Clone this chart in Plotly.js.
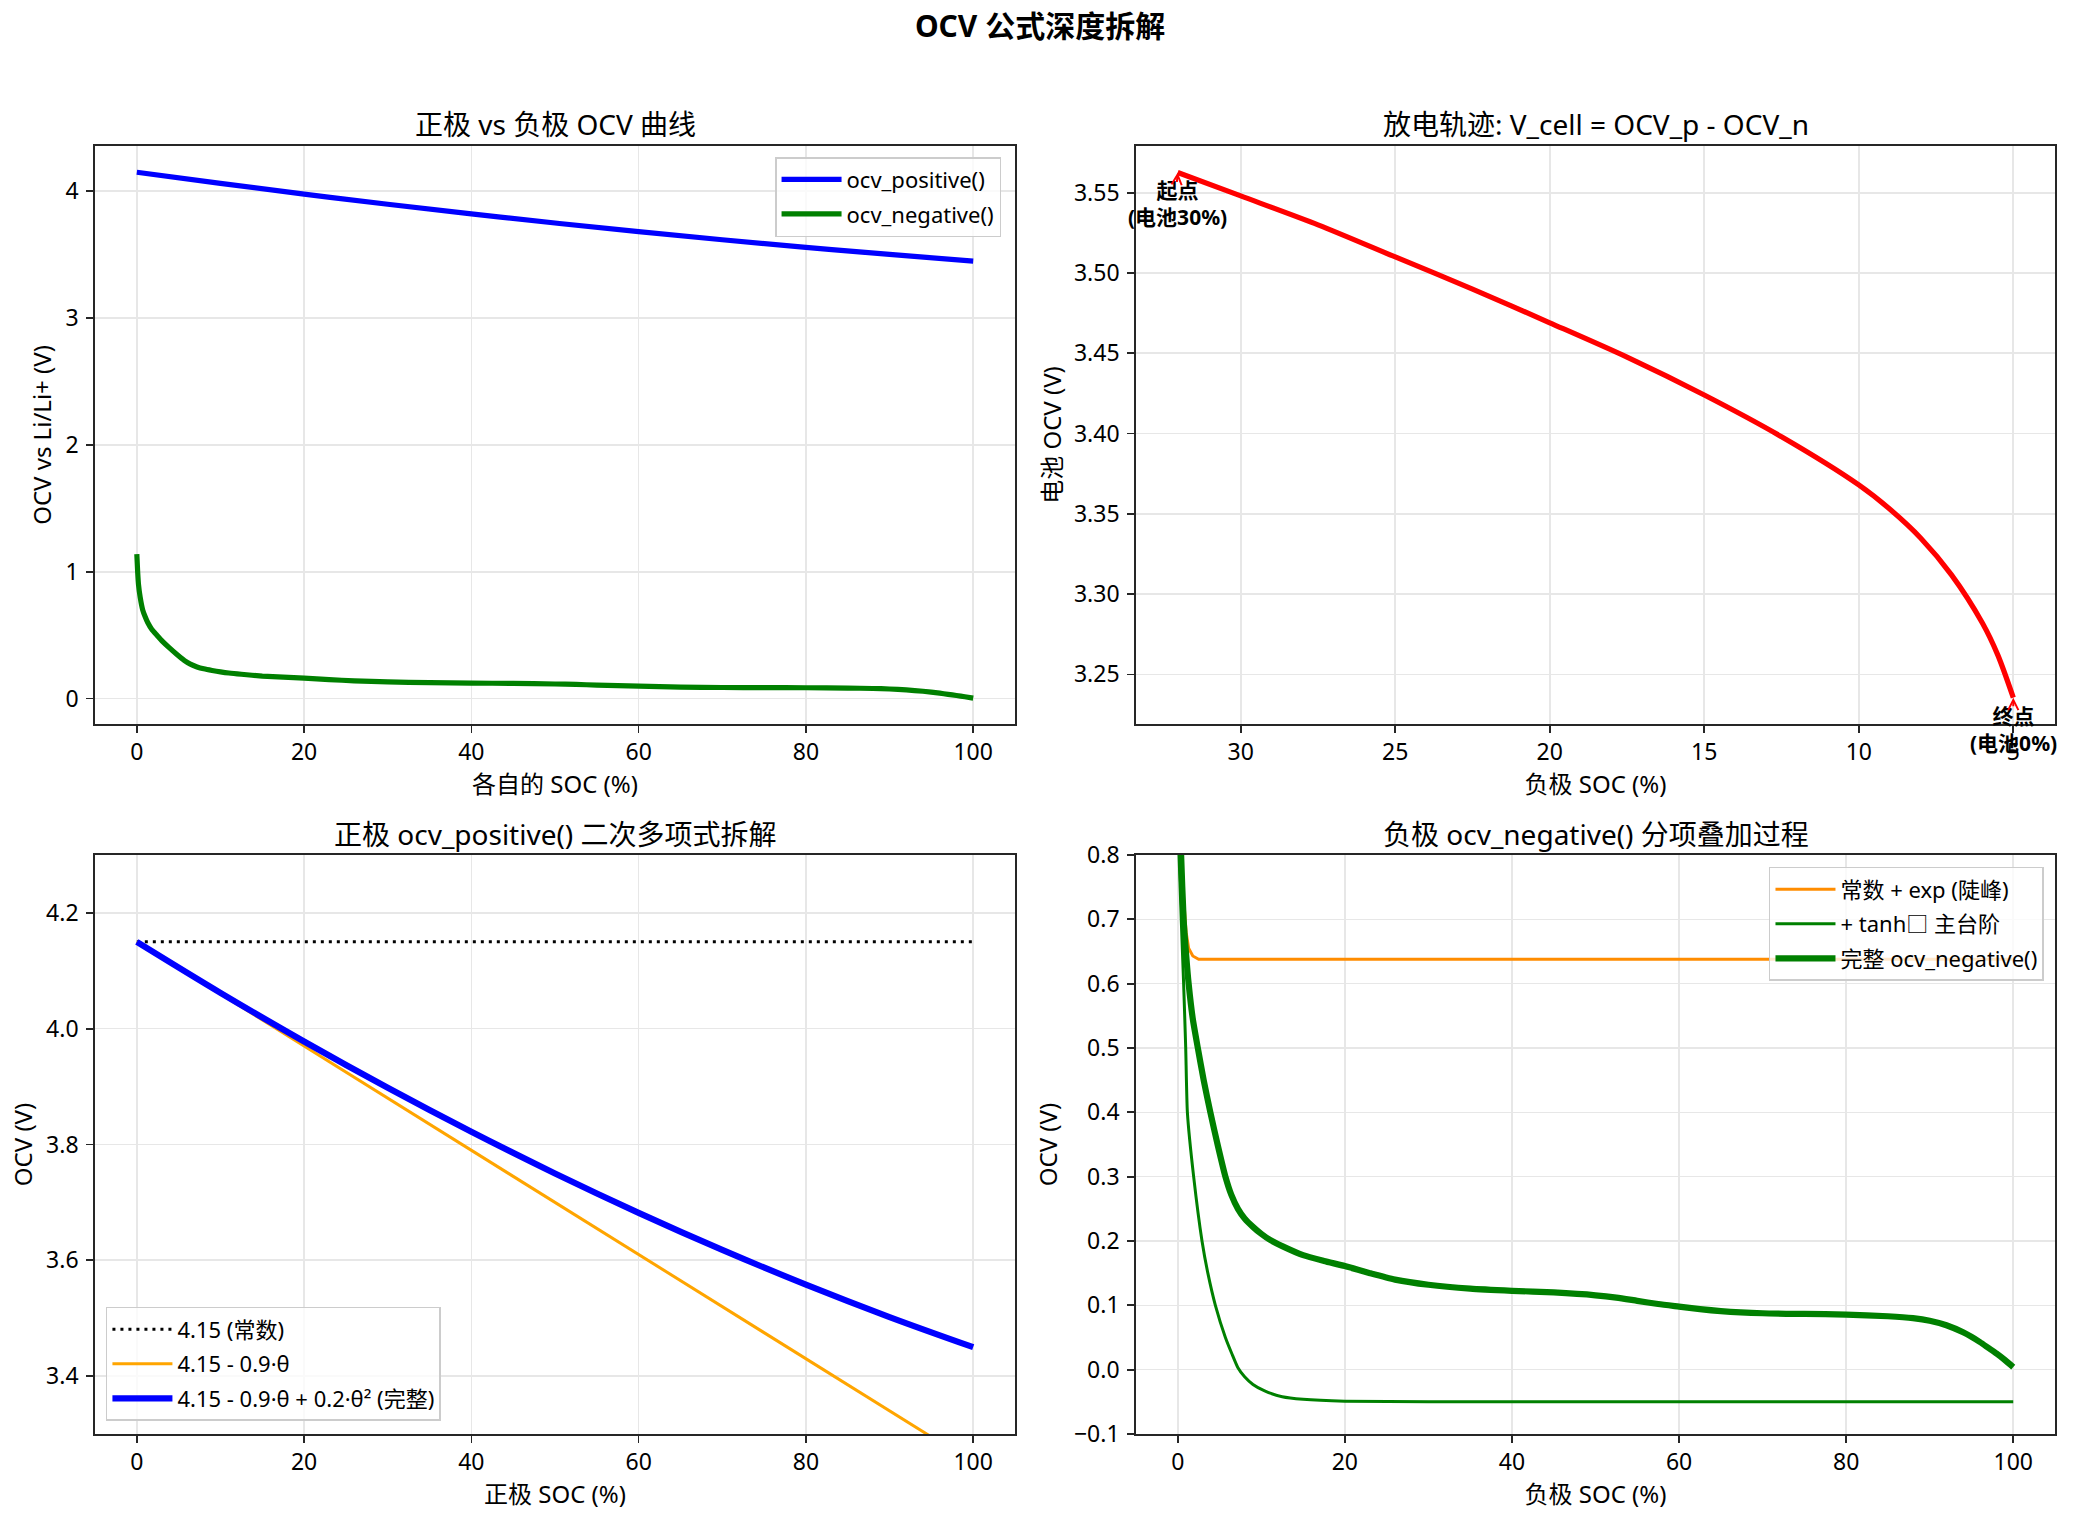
<!DOCTYPE html>
<html>
<head>
<meta charset="utf-8">
<script src="https://cdn.plot.ly/plotly-3.0.1.min.js"></script>
<style>html,body{margin:0;padding:0;background:#fff;}#chart{width:2073px;height:1522px;}</style>
</head>
<body>
<div id="chart"></div>
<script>
// ---- Data ----
// Positive electrode OCV vs its own SOC (%)
const socPos = [0, 10, 20, 30, 40, 50, 60, 70, 80, 90, 100];
const ocvPos = [4.150, 4.062, 3.978, 3.898, 3.822, 3.750, 3.682, 3.618, 3.558, 3.502, 3.450];

// Negative electrode OCV vs its own SOC (%)
const socNeg = [0, 0.1, 0.2, 0.4, 0.7, 1.0, 1.3, 1.8, 2.4, 3.1, 3.9, 4.8, 5.7, 6.4, 7.2, 8.0, 9.0, 10.0, 11.0, 12.5, 15, 17.5, 20, 23, 26, 30, 35, 40, 45, 50, 52.5, 55, 57.5, 60, 62.5, 65, 70, 75, 80, 85, 88, 90, 92, 94, 96, 97, 98, 99, 100];
const ocvNeg = [1.14, 1.0, 0.9, 0.8, 0.7, 0.645, 0.6, 0.545, 0.5, 0.45, 0.4, 0.348, 0.3, 0.272, 0.25, 0.235, 0.222, 0.211, 0.202, 0.192, 0.178, 0.169, 0.161, 0.15, 0.14, 0.132, 0.126, 0.1226, 0.12, 0.1156, 0.112, 0.107, 0.102, 0.098, 0.094, 0.091, 0.0877, 0.0866, 0.0857, 0.083, 0.08, 0.076, 0.069, 0.058, 0.043, 0.034, 0.025, 0.015, 0.004];

// Discharge trajectory: cell OCV vs negative SOC (%)
const cellSocN = [32.04, 30, 27.5, 25, 22.5, 20, 17.5, 15, 12.5, 10, 9, 8, 7, 6, 5.5, 5];
const cellOcv  = [3.5626, 3.548, 3.530, 3.510, 3.490, 3.469, 3.4476, 3.424, 3.398, 3.368, 3.353, 3.335, 3.312, 3.282, 3.262, 3.2355];

// Positive polynomial breakdown
const constX = [0, 100];
const constY = [4.15, 4.15];
const linX = [0, 100];
const linY = [4.15, 3.25];

// Negative breakdown
const expX = [0, 0.3, 0.6, 1.0, 1.3, 1.8, 2.5, 5, 20, 50, 100];
const expY = [1.14, 0.85, 0.75, 0.68, 0.655, 0.643, 0.638, 0.638, 0.638, 0.638, 0.638];
const tanhX = [0, 0.15, 0.7, 0.95, 1.15, 1.9, 2.9, 3.6, 4.5, 5.7, 6.5, 7.2, 8, 9, 10.4, 12.5, 15, 20, 30, 50, 100];
const tanhY = [1.0, 0.8, 0.6, 0.5, 0.4, 0.3, 0.2, 0.15, 0.1, 0.05, 0.024, 0.003, -0.011, -0.023, -0.033, -0.042, -0.046, -0.049, -0.05, -0.05, -0.05];

const xTicks = [0, 20, 40, 60, 80, 100];
const cellTicks = [30, 25, 20, 15, 10, 5];

// ---- Styling ----
const FONT = "'Noto Sans', 'Noto Sans CJK SC', sans-serif";
function ax(extra) {
  return Object.assign({
    showline: true, mirror: true, linecolor: '#262626', linewidth: 1.8,
    ticks: 'outside', ticklen: 7, tickwidth: 1.7, tickcolor: '#262626',
    showgrid: true, gridcolor: '#e7e7e7', gridwidth: 1.6, zeroline: false,
    tickfont: {size: 23, color: '#000', family: FONT}, automargin: false,
    ticklabelstandoff: 3
  }, extra);
}
const xd1 = [0.04583, 0.48963], xd2 = [0.54800, 0.99132];
const ydT = [0.52431, 0.90407], ydB = [0.05782, 0.43824];

const traces = [
  {x: socPos, y: ocvPos, xaxis: 'x', yaxis: 'y', mode: 'lines', name: 'ocv_positive()',
   line: {color: '#0000ff', width: 5.2, shape: 'spline'}, legend: 'legend', legendgroup: 'a'},
  {x: socNeg, y: ocvNeg, xaxis: 'x', yaxis: 'y', mode: 'lines', name: 'ocv_negative()',
   line: {color: '#008000', width: 5.2, shape: 'spline', smoothing: 0.6}, legend: 'legend', legendgroup: 'b'},

  {x: cellSocN, y: cellOcv, xaxis: 'x2', yaxis: 'y2', mode: 'lines', showlegend: false,
   line: {color: '#ff0000', width: 5.2, shape: 'spline', smoothing: 0.8}},

  {x: constX, y: constY, xaxis: 'x3', yaxis: 'y3', mode: 'lines', name: '4.15 (常数)',
   line: {color: '#000', width: 3, dash: '3px,5px'}, legend: 'legend2', legendgroup: 'c'},
  {x: linX, y: linY, xaxis: 'x3', yaxis: 'y3', mode: 'lines', name: '4.15 - 0.9·θ',
   line: {color: '#ffa500', width: 3}, legend: 'legend2', legendgroup: 'd'},
  {x: socPos, y: ocvPos, xaxis: 'x3', yaxis: 'y3', mode: 'lines', name: '4.15 - 0.9·θ + 0.2·θ² (完整)',
   line: {color: '#0000ff', width: 6.2, shape: 'spline'}, legend: 'legend2', legendgroup: 'e'},

  {x: expX, y: expY, xaxis: 'x4', yaxis: 'y4', mode: 'lines', name: '常数 + exp (陡峰)',
   line: {color: '#ff8c00', width: 3}, legend: 'legend3', legendgroup: 'f'},
  {x: tanhX, y: tanhY, xaxis: 'x4', yaxis: 'y4', mode: 'lines', name: '+ tanh□ 主台阶',
   line: {color: '#008000', width: 3, shape: 'spline', smoothing: 0.5}, legend: 'legend3', legendgroup: 'g'},
  {x: socNeg, y: ocvNeg, xaxis: 'x4', yaxis: 'y4', mode: 'lines', name: '完整 ocv_negative()',
   line: {color: '#008000', width: 6.2, shape: 'spline', smoothing: 0.6}, legend: 'legend3', legendgroup: 'h'}
];

const legendBase = {
  bgcolor: 'rgba(255,255,255,0.8)', bordercolor: '#cccccc', borderwidth: 1.5,
  font: {size: 22, family: FONT, color: '#000'}, tracegroupgap: 3, itemwidth: 60
};

const titleFont = {size: 28, family: FONT, color: '#000'};
const labelFont = {size: 24, family: FONT, color: '#000'};
const annFont = {size: 21, family: FONT, color: '#000'};

const layout = {
  width: 2073, height: 1522,
  margin: {l: 0, r: 0, t: 0, b: 0},
  paper_bgcolor: '#fff', plot_bgcolor: '#fff',
  font: {family: FONT, color: '#000'},
  title: {text: '<b>OCV 公式深度拆解</b>', font: {size: 30, family: FONT, color: '#000'},
          x: 0.5017, xanchor: 'center', y: 0.9823, yanchor: 'middle'},
  showlegend: true,
  xaxis: ax({domain: xd1, anchor: 'y', range: [-5, 105], tickvals: xTicks, ticklabelstandoff: 0,
             title: {text: '各自的 SOC (%)', font: labelFont, standoff: 7}}),
  yaxis: ax({domain: ydT, anchor: 'x', range: [-0.2, 4.357], tickvals: [0, 1, 2, 3, 4],
             title: {text: 'OCV vs Li/Li+ (V)', font: labelFont, standoff: 7}}),
  xaxis2: ax({domain: xd2, anchor: 'y2', range: [33.39, 3.65], tickvals: cellTicks, ticklabelstandoff: 0,
              title: {text: '负极 SOC (%)', font: labelFont, standoff: 7}}),
  yaxis2: ax({domain: ydT, anchor: 'x2', range: [3.2191, 3.5791], tickvals: [3.25, 3.30, 3.35, 3.40, 3.45, 3.50, 3.55],
              tickformat: '.2f', title: {text: '电池 OCV (V)', font: labelFont, standoff: 5}}),
  xaxis3: ax({domain: xd1, anchor: 'y3', range: [-5, 105], tickvals: xTicks, ticklabelstandoff: 0,
              title: {text: '正极 SOC (%)', font: labelFont, standoff: 7}}),
  yaxis3: ax({domain: ydB, anchor: 'x3', range: [3.3, 4.3], tickvals: [3.4, 3.6, 3.8, 4.0, 4.2],
              tickformat: '.1f', title: {text: 'OCV (V)', font: labelFont, standoff: 7}}),
  xaxis4: ax({domain: xd2, anchor: 'y4', range: [-5, 105], tickvals: xTicks, ticklabelstandoff: 0,
              title: {text: '负极 SOC (%)', font: labelFont, standoff: 7}}),
  yaxis4: ax({domain: ydB, anchor: 'x4', range: [-0.1, 0.8], tickvals: [-0.1, 0, 0.1, 0.2, 0.3, 0.4, 0.5, 0.6, 0.7, 0.8],
              tickformat: '.1f', title: {text: 'OCV (V)', font: labelFont, standoff: 9}}),
  legend: Object.assign({}, legendBase, {x: 0.4829, xanchor: 'right', y: 0.8968, yanchor: 'top'}),
  legend2: Object.assign({}, legendBase, {x: 0.0511, xanchor: 'left', y: 0.0664, yanchor: 'bottom'}),
  legend3: Object.assign({}, legendBase, {x: 0.9860, xanchor: 'right', y: 0.4304, yanchor: 'top'}),
  annotations: [
    {text: '正极 vs 负极 OCV 曲线', xref: 'paper', yref: 'paper', x: (xd1[0] + xd1[1]) / 2, y: 0.9185,
     xanchor: 'center', yanchor: 'middle', showarrow: false, font: titleFont},
    {text: '放电轨迹: V_cell = OCV_p - OCV_n', xref: 'paper', yref: 'paper', x: (xd2[0] + xd2[1]) / 2, y: 0.9185,
     xanchor: 'center', yanchor: 'middle', showarrow: false, font: titleFont},
    {text: '正极 ocv_positive() 二次多项式拆解', xref: 'paper', yref: 'paper', x: (xd1[0] + xd1[1]) / 2, y: 0.4520,
     xanchor: 'center', yanchor: 'middle', showarrow: false, font: titleFont},
    {text: '负极 ocv_negative() 分项叠加过程', xref: 'paper', yref: 'paper', x: (xd2[0] + xd2[1]) / 2, y: 0.4520,
     xanchor: 'center', yanchor: 'middle', showarrow: false, font: titleFont},
    // start / end labels
    {text: '<b>起点</b><br><b>(电池30%)</b>', xref: 'x2', yref: 'paper', x: cellSocN[0], y: 1 - 203.5 / 1522,
     xanchor: 'center', yanchor: 'middle', showarrow: false, font: annFont},
    {text: '', xref: 'x2', yref: 'y2', x: cellSocN[0], y: cellOcv[0], ax: -1, ay: 11,
     showarrow: true, arrowhead: 5, arrowsize: 1, arrowwidth: 2, arrowcolor: '#ff0000', standoff: 0},
    {text: '<b>终点</b><br><b>(电池0%)</b>', xref: 'x2', yref: 'paper', x: cellSocN[cellSocN.length - 1], y: 1 - 729.5 / 1522,
     xanchor: 'center', yanchor: 'middle', showarrow: false, font: annFont},
    {text: '', xref: 'x2', yref: 'y2', x: cellSocN[cellSocN.length - 1], y: cellOcv[cellOcv.length - 1], ax: 0, ay: 10,
     showarrow: true, arrowhead: 5, arrowsize: 1, arrowwidth: 2, arrowcolor: '#ff0000', standoff: 0}
  ]
};

Plotly.newPlot('chart', traces, layout, {staticPlot: true, displayModeBar: false});
</script>
</body>
</html>
